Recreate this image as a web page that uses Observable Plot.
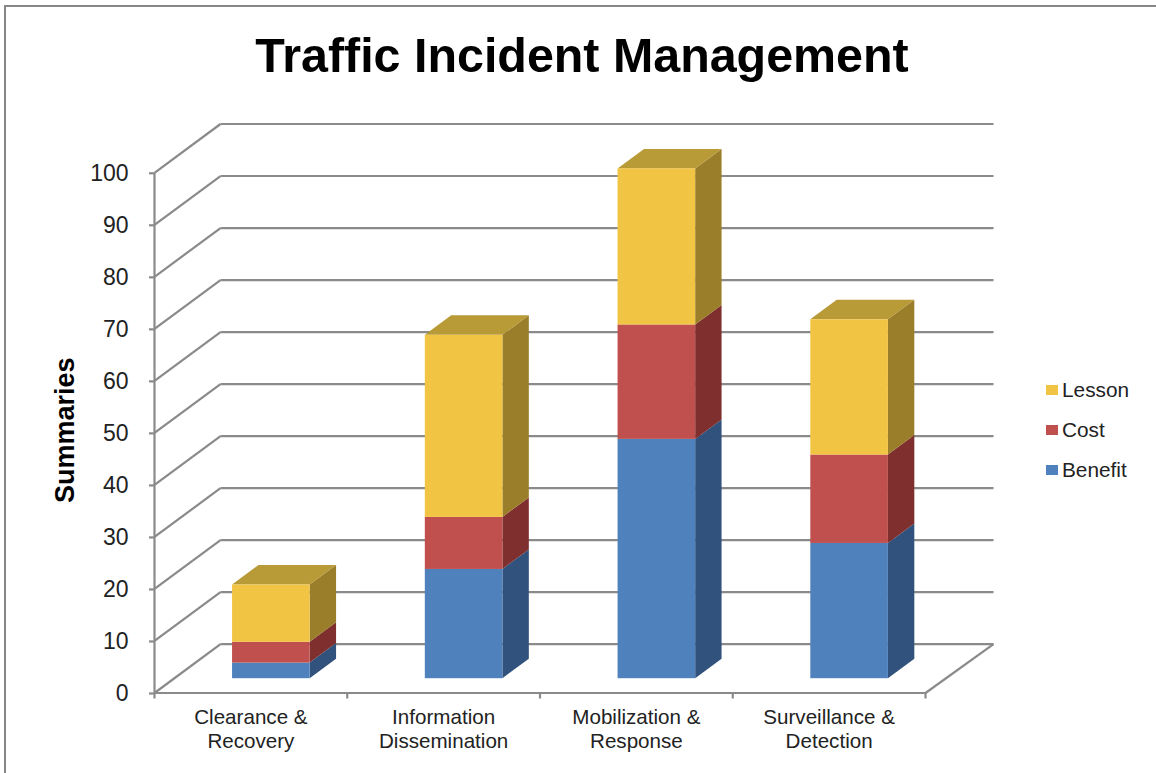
<!DOCTYPE html>
<html>
<head>
<meta charset="utf-8">
<script src="https://cdn.jsdelivr.net/npm/d3@7"></script>
<script src="https://cdn.jsdelivr.net/npm/@observablehq/plot@0.6"></script>
<style>
  html, body { margin: 0; padding: 0; background: #fff; overflow: hidden; height: 100%; }
  body { font-family: "Liberation Sans", Arial, sans-serif; color: #222; }
  #frame { position: absolute; left: 4px; top: 5px; right: -10px; bottom: -10px;
           border-left: 2.5px solid #868686; border-top: 2.5px solid #868686; pointer-events: none; }
  #title { width: 1164px; height: 100px; line-height: 110px; margin: 0; text-align: center;
           font-size: 48.4px; font-weight: bold; color: #000; }
  #legend { position: absolute; left: 1046px; top: 370px; font-size: 20.8px; }
  #legend div { height: 40px; display: flex; align-items: center; }
  #legend span { display: inline-block; width: 11.5px; height: 10.5px; margin-right: 4.5px; }
  svg { display: block; }
</style>
</head>
<body>
<div id="frame"></div>
<h1 id="title">Traffic Incident Management</h1>
<div id="chart"></div>
<div id="legend"></div>
<script>
const categories = ["Clearance &\nRecovery", "Information\nDissemination", "Mobilization &\nResponse", "Surveillance &\nDetection"];
const benefit = [3, 21, 46, 26];
const cost = [4, 10, 22, 17];
const lesson = [11, 35, 30, 26];
const yTicks = [0, 10, 20, 30, 40, 50, 60, 70, 80, 90, 100];
const xTicks = [0, 1, 2, 3, 4];
const seriesNames = ["Benefit", "Cost", "Lesson"];
const seriesValues = [benefit, cost, lesson];
const faceColors = {
  Benefit: {front: "#4F81BD", side: "#31527C"},
  Cost:    {front: "#C0504D", side: "#7E2F2E"},
  Lesson:  {front: "#F2C443", side: "#9B7E2A", top: "#B89A36"}
};

// Oblique projection expressed in scale units
const xEnd = 4.3528, wallX = 0.3424, wallY = 9.38;
const barLeft = 0.405, barW = 0.4026, barBase = 2.75, depthX = 0.137, depthY = 3.75;
const gridColor = "#8A8A8A", gridW = 2.2;

const fronts = [], faces = [];
categories.forEach((c, i) => {
  let b = 0;
  const xa = i + barLeft, xb = xa + barW;
  seriesNames.forEach((s, k) => {
    const t = b + seriesValues[k][i];
    const y0 = barBase + b, y1 = barBase + t;
    fronts.push({x1: xa, x2: xb, y1: y0, y2: y1, fill: faceColors[s].front});
    const sid = `${i}-${s}-side`;
    faces.push({id: sid, x1: xb, x2: xb, y1: y0, y2: y1, fill: faceColors[s].side});
    faces.push({id: sid, x1: xb + depthX, x2: xb + depthX, y1: y0 + depthY, y2: y1 + depthY, fill: faceColors[s].side});
    if (s === "Lesson") {
      const tid = `${i}-top`;
      faces.push({id: tid, x1: xa, x2: xb, y1: y1, y2: y1, fill: faceColors[s].top});
      faces.push({id: tid, x1: xa + depthX, x2: xb + depthX, y1: y1 + depthY, y2: y1 + depthY, fill: faceColors[s].top});
    }
    b = t;
  });
});

const chart = Plot.plot({
  width: 1156, height: 673,
  marginLeft: 154, marginRight: 163, marginTop: 23.5, marginBottom: 80.5,
  style: {fontFamily: '"Liberation Sans", Arial, sans-serif', background: "transparent", overflow: "visible"},
  x: {domain: [0, xEnd]},
  y: {domain: [0, 100 + wallY]},
  color: {type: "identity"},
  marks: [
    // back wall and left wall
    Plot.link(yTicks, {x1: wallX, x2: xEnd, y1: d => d + wallY, y2: d => d + wallY, stroke: gridColor, strokeWidth: gridW}),
    Plot.link(yTicks, {x1: 0, x2: wallX, y1: d => d, y2: d => d + wallY, stroke: gridColor, strokeWidth: gridW}),
    // floor
    Plot.link([0], {x1: 4, x2: xEnd, y1: 0, y2: wallY, stroke: gridColor, strokeWidth: gridW}),
    Plot.link([0], {x1: 0, x2: 4, y1: 0, y2: 0, stroke: gridColor, strokeWidth: gridW}),
    Plot.link([0], {x1: 0, x2: 0, y1: 0, y2: 100, stroke: gridColor, strokeWidth: gridW}),
    Plot.axisY({ticks: yTicks, tickSize: 5, tickPadding: 21, fontSize: 23, label: null, stroke: gridColor, strokeWidth: gridW, fill: "#222", dy: 0.5}),
    Plot.axisX({ticks: xTicks, tickSize: 6, tickFormat: () => "", label: null, stroke: gridColor, strokeWidth: gridW}),
    // bars
    Plot.area(faces, {x1: "x1", x2: "x2", y1: "y1", y2: "y2", z: "id", fill: "fill"}),
    Plot.rect(fronts, {x1: "x1", x2: "x2", y1: "y1", y2: "y2", fill: "fill", inset: 0}),
    // labels
    Plot.text(categories, {x: (d, i) => i + 0.5, y: 0, dy: 13, text: d => d, lineAnchor: "top", lineHeight: 1.2, fontSize: 20.6, fill: "#222"}),
    Plot.text(["Summaries"], {x: 0, y: 50.5, dx: -89, rotate: -90, text: d => d, fontSize: 27, fontWeight: "bold", fill: "#000"})
  ]
});
document.getElementById("chart").append(chart);

const legend = document.getElementById("legend");
[...seriesNames].reverse().forEach(s => {
  const row = document.createElement("div");
  const sw = document.createElement("span");
  sw.style.background = faceColors[s].front;
  row.append(sw, document.createTextNode(s));
  legend.append(row);
});
</script>
</body>
</html>
